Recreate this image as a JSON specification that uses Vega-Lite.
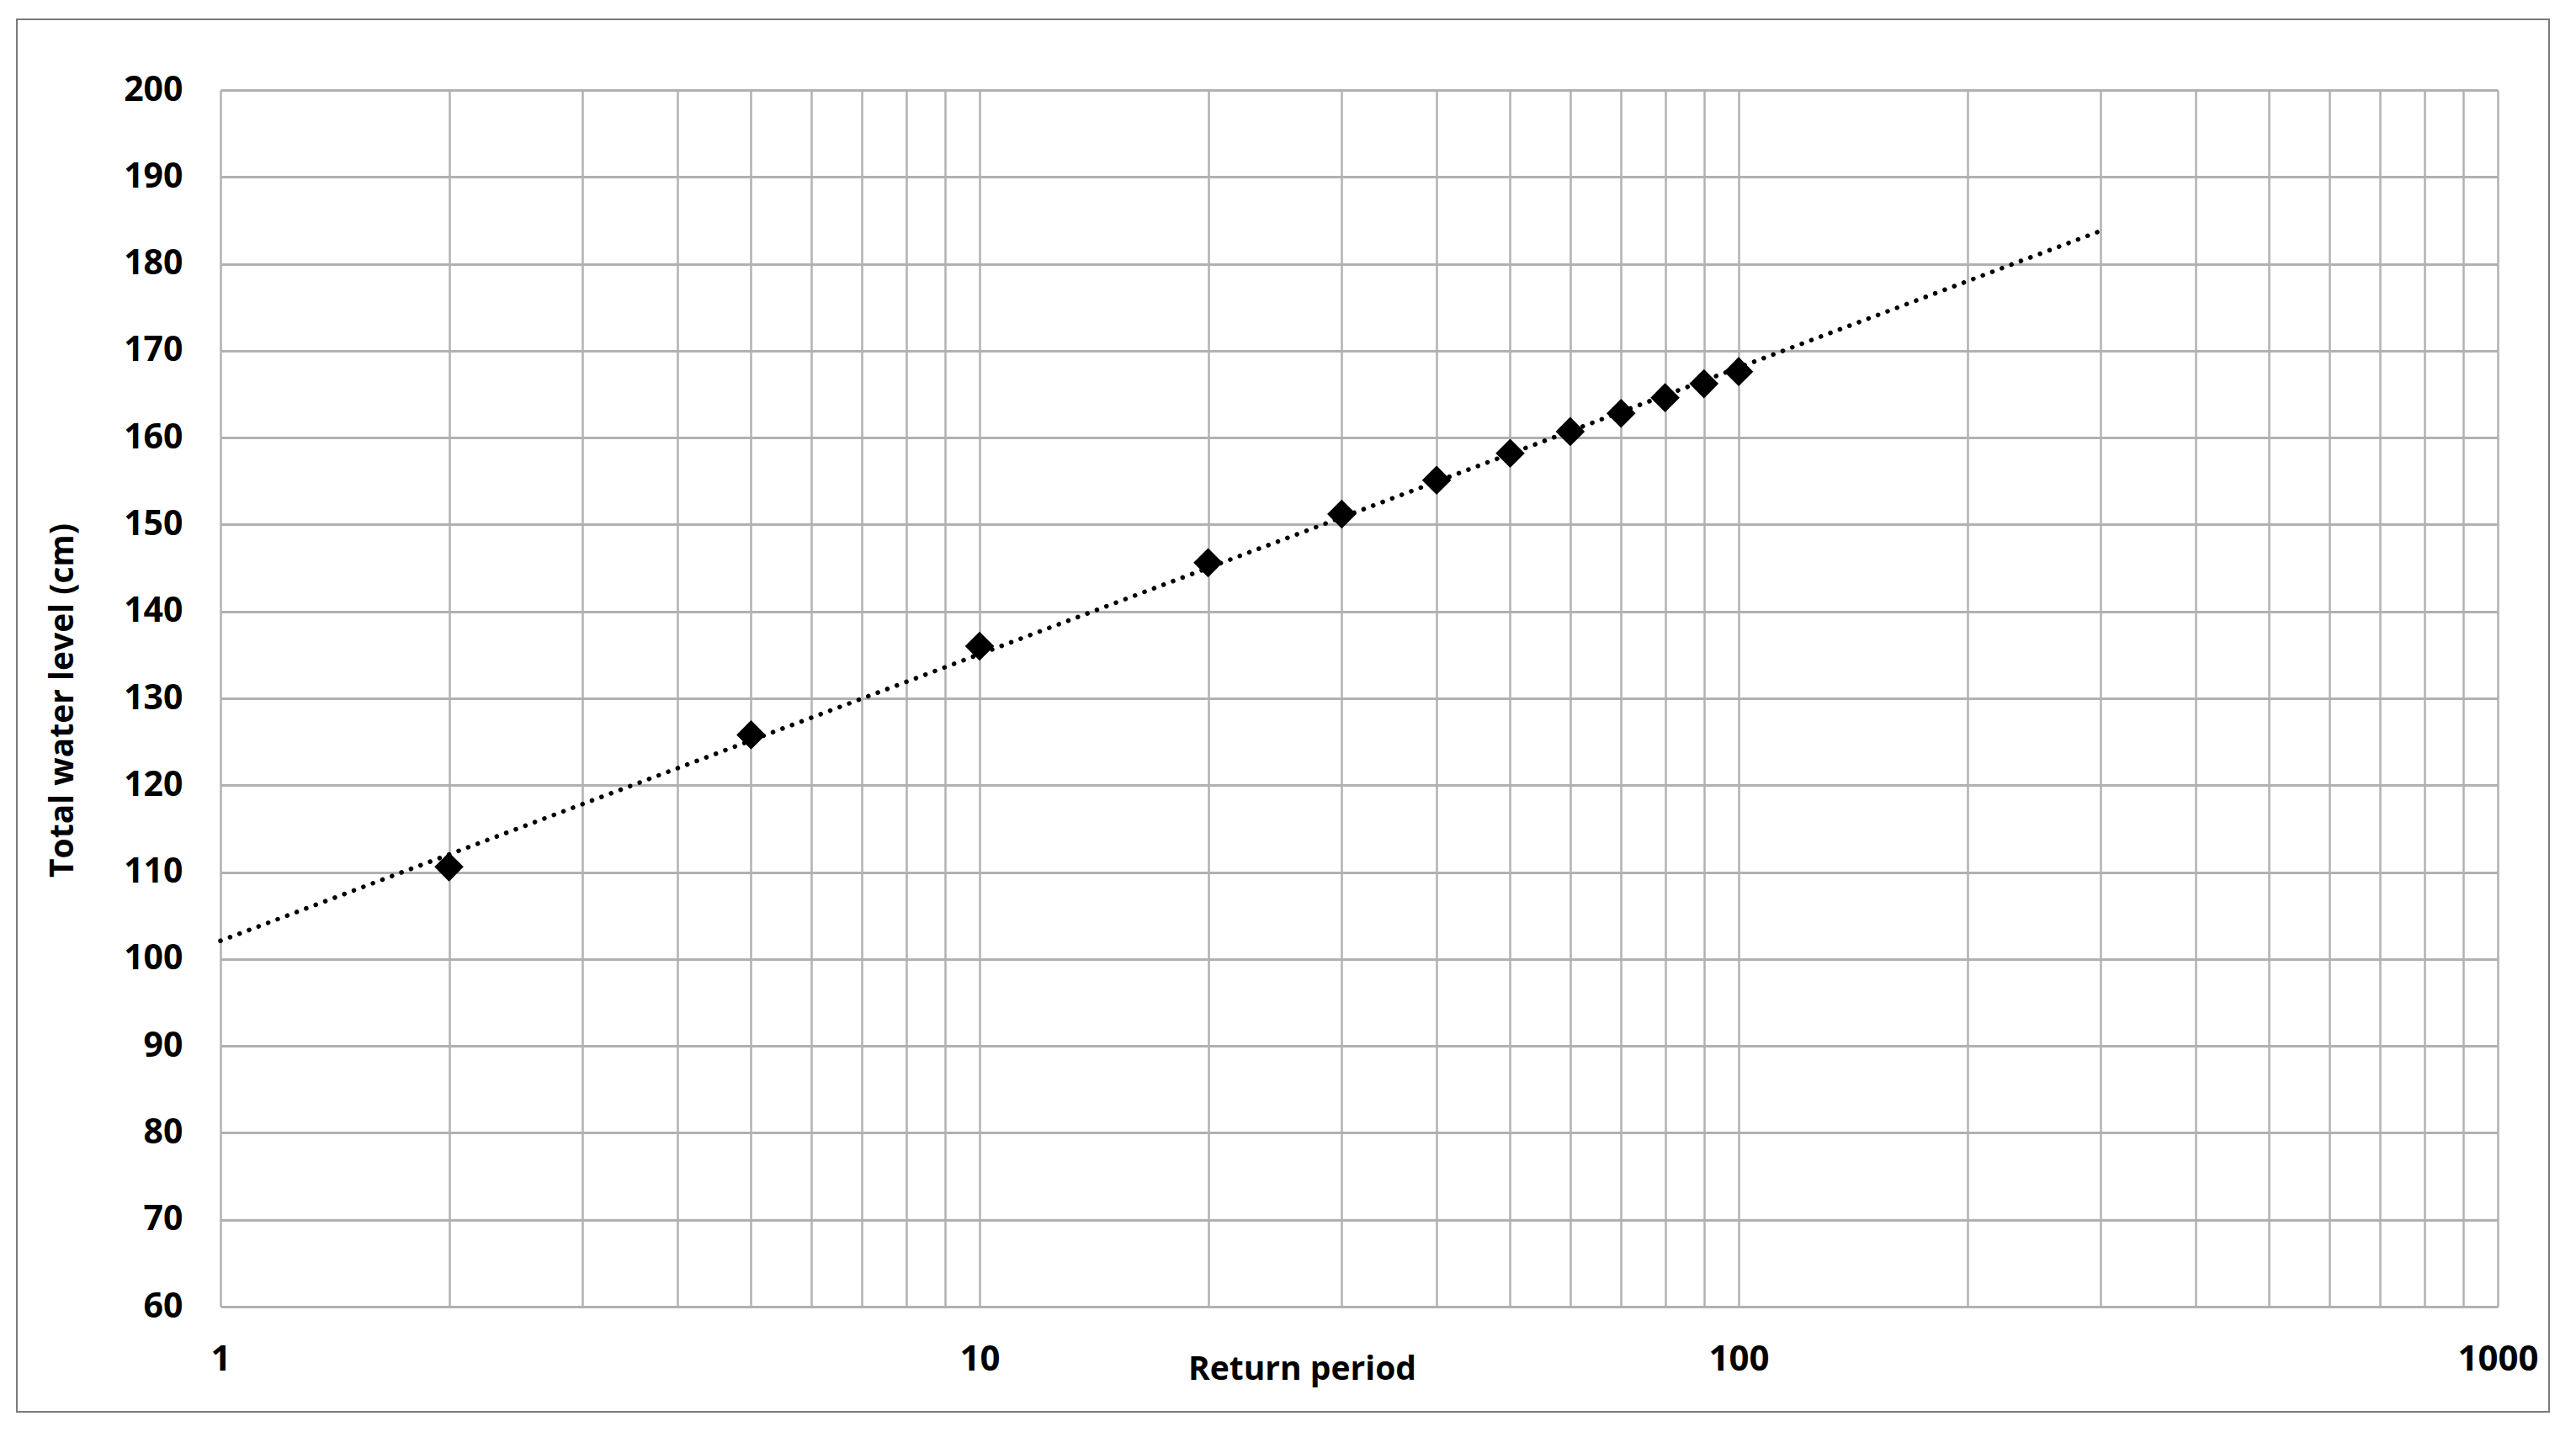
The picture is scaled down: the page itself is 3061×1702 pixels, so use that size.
{
  "$schema": "https://vega.github.io/schema/vega-lite/v6.json",
  "width": 3009,
  "height": 1655,
  "autosize": {"type": "none"},
  "padding": {"left": 20, "top": 23, "right": 32, "bottom": 24},
  "background": "white",
  "config": {
    "view": {"stroke": "#7a7a7a", "strokeWidth": 2},
    "font": "Open Sans"
  },
  "datasets": {
    "points": [
      {"period": 2, "level": 110.6},
      {"period": 5, "level": 125.8},
      {"period": 10, "level": 136.0},
      {"period": 20, "level": 145.6},
      {"period": 30, "level": 151.2},
      {"period": 40, "level": 155.1},
      {"period": 50, "level": 158.2},
      {"period": 60, "level": 160.7},
      {"period": 70, "level": 162.8},
      {"period": 80, "level": 164.6},
      {"period": 90, "level": 166.2},
      {"period": 100, "level": 167.6}
    ],
    "trend": [
      {"period": 1, "level": 102.1},
      {"period": 300, "level": 183.8}
    ]
  },
  "resolve": {"axis": {"x": "independent"}},
  "encoding": {
    "y": {
      "field": "level", "type": "quantitative",
      "scale": {"domain": [60, 200], "range": [1530, 84], "nice": false, "zero": false},
      "axis": {
        "orient": "left",
        "offset": -242,
        "values": [60,70,80,90,100,110,120,130,140,150,160,170,180,190,200],
        "labelOverlap": false,
        "labelFlush": false,
        "labelFont": "Open Sans",
        "labelFontWeight": "bold",
        "labelFontSize": 41,
        "labelColor": "black",
        "labelPadding": 45,
        "ticks": false,
        "tickSize": 0,
        "domain": false,
        "grid": true,
        "gridColor": "#b3b0b0",
        "gridWidth": 2.8,
        "title": "Total water level (cm)",
        "titleFont": "Open Sans",
        "titleFontWeight": "bold",
        "titleFontSize": 39,
        "titleColor": "black",
        "titleX": -188,
        "titleY": 809,
        "titleAngle": -90,
        "titleAlign": "center",
        "titleBaseline": "middle"
      }
    }
  },
  "layer": [
    {
      "data": {"name": "trend"},
      "mark": {"type": "line", "color": "black", "strokeWidth": 5.5, "strokeDash": [0.1, 12], "strokeCap": "round"},
      "encoding": {
        "x": {
          "field": "period", "type": "quantitative",
          "scale": {"type": "log", "domain": [1, 1000], "range": [242, 2948], "nice": false},
          "axis": {
            "orient": "top",
            "offset": 0,
            "values": [1,2,3,4,5,6,7,8,9,10,20,30,40,50,60,70,80,90,100,200,300,400,500,600,700,800,900,1000],
            "labels": false,
            "ticks": false,
            "tickSize": 0,
            "domain": false,
            "grid": true,
            "gridColor": "#b3b0b0",
            "gridWidth": 2.5,
            "title": null
          }
        }
      }
    },
    {
      "data": {"name": "points"},
      "mark": {"type": "point", "shape": "diamond", "filled": true, "color": "black", "size": 1200, "opacity": 1},
      "encoding": {
        "x": {
          "field": "period", "type": "quantitative",
          "scale": {"type": "log", "domain": [1, 1000], "range": [242, 2948], "nice": false},
          "axis": {
            "orient": "bottom",
            "offset": -125,
            "values": [1,10,100,1000],
            "format": "d",
            "labelOverlap": false,
            "labelFlush": false,
            "labelFont": "Open Sans",
            "labelFontWeight": "bold",
            "labelFontSize": 42,
            "labelColor": "black",
            "labelPadding": 42,
            "ticks": false,
            "tickSize": 0,
            "domain": false,
            "grid": false,
            "title": "Return period",
            "titleFont": "Open Sans",
            "titleFontWeight": "bold",
            "titleFontSize": 39,
            "titleColor": "black",
            "titleX": 1527,
            "titleY": 74,
            "titleAlign": "center",
            "titleBaseline": "middle"
          }
        }
      }
    }
  ]
}
